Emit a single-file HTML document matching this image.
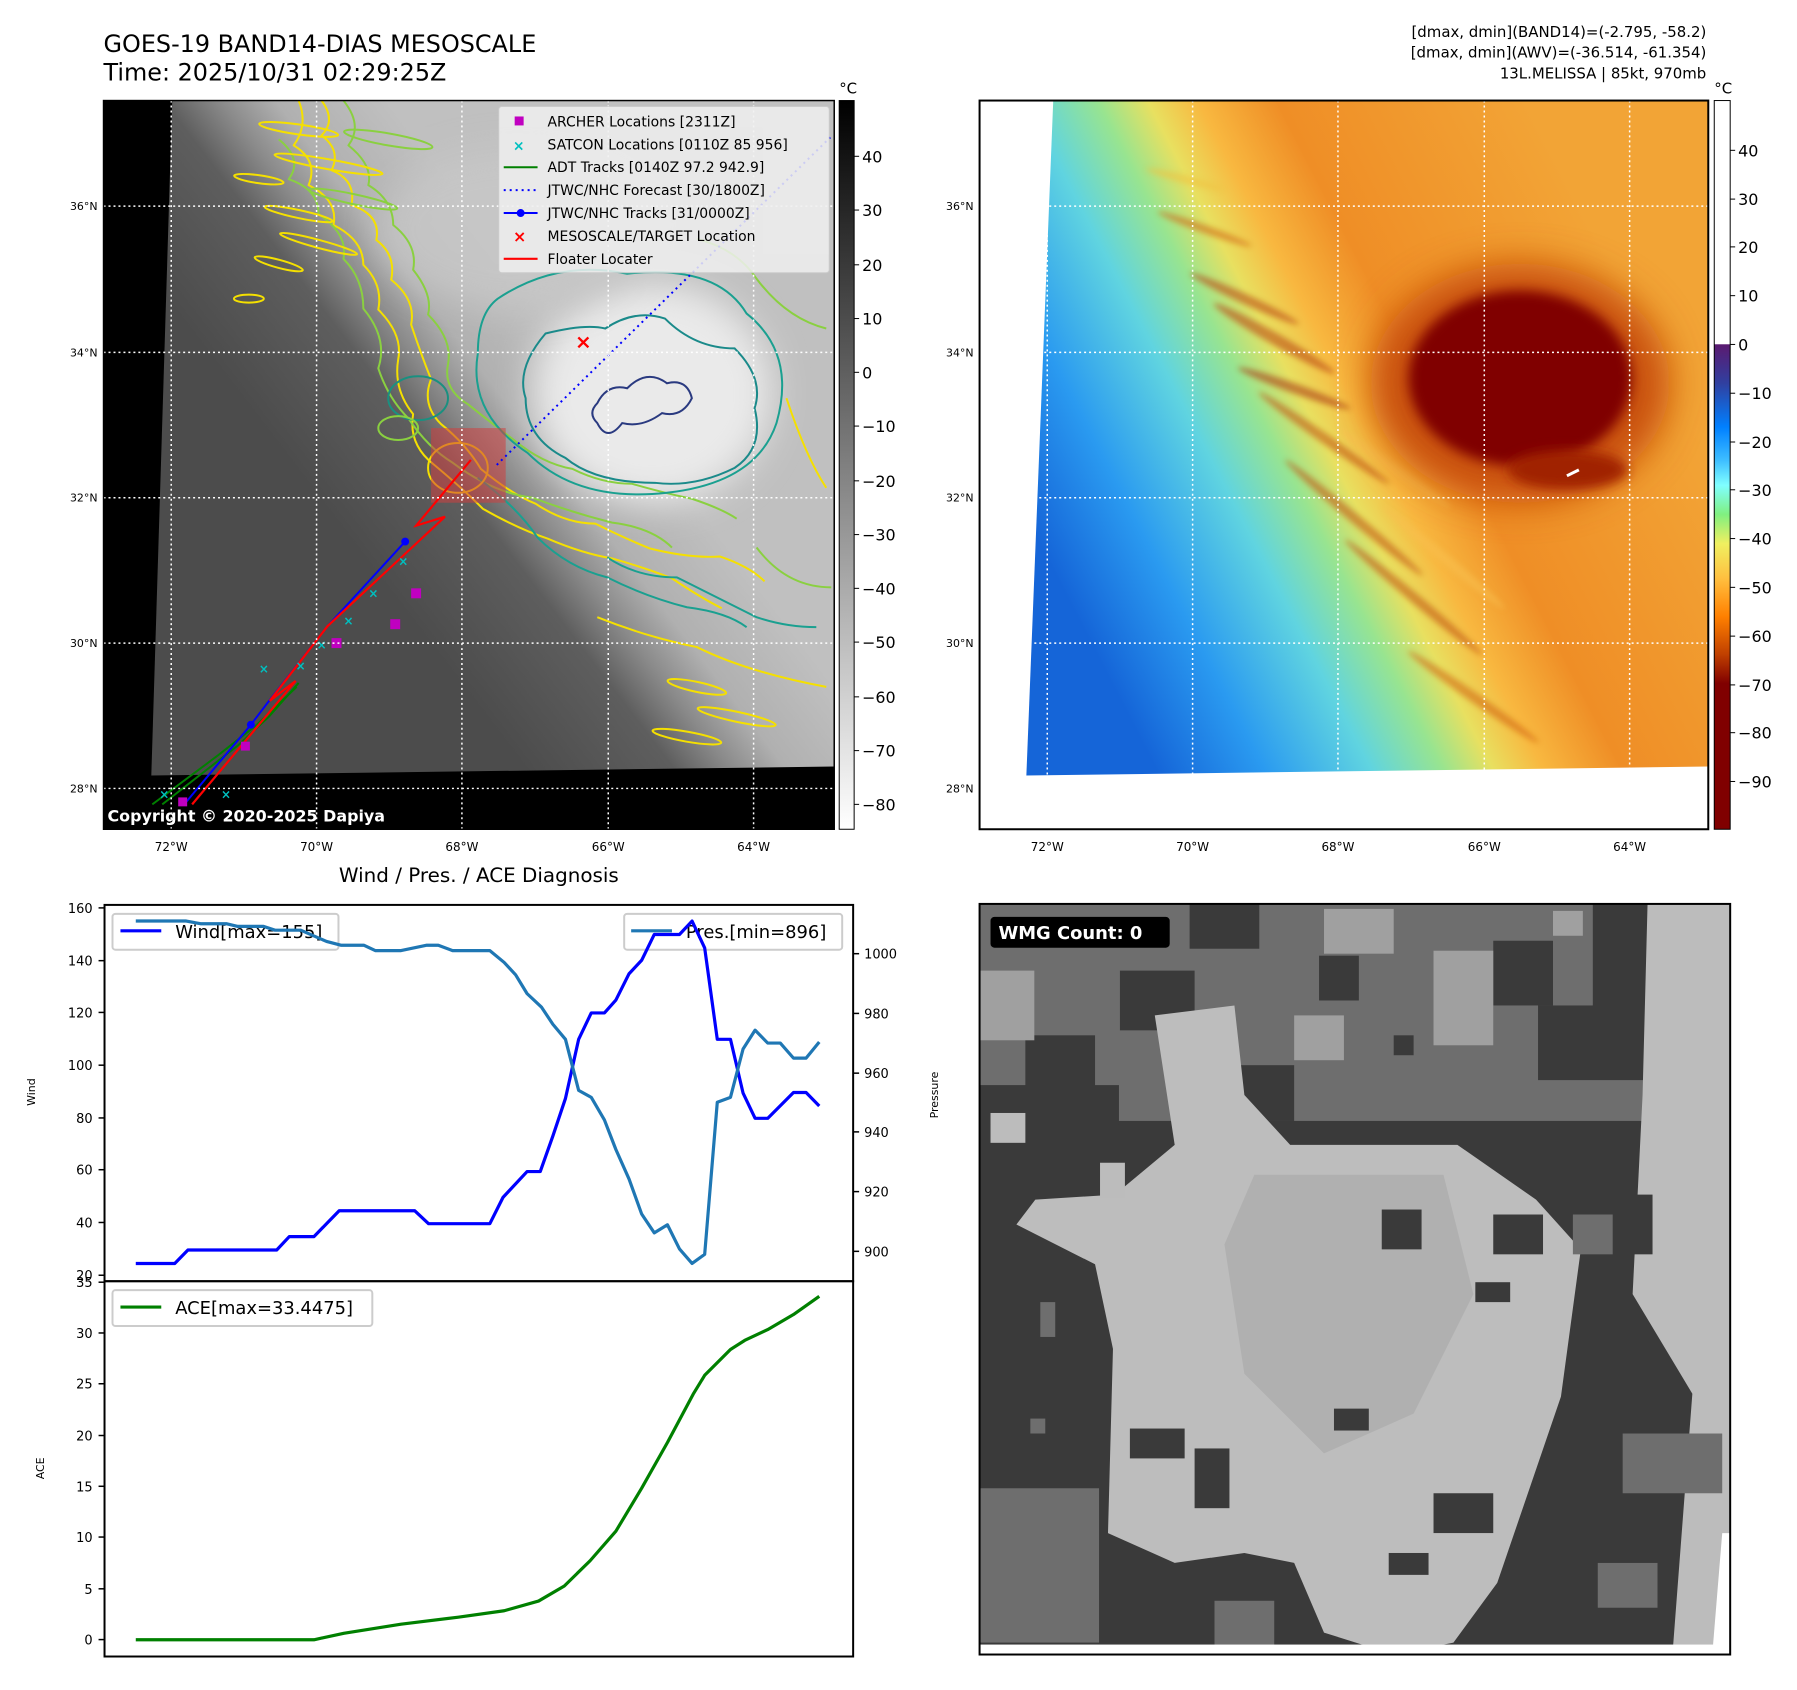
<!DOCTYPE html>
<html><head><meta charset="utf-8">
<style>
html,body{margin:0;padding:0;background:#fff;}
svg{display:block;font-family:"DejaVu Sans","Liberation Sans",sans-serif;}
</style></head>
<body>
<svg width="1797" height="1690" viewBox="0 0 1797 1690" xmlns="http://www.w3.org/2000/svg">
<defs>
  <clipPath id="c1"><rect x="104" y="101" width="734" height="732"/></clipPath>
  <clipPath id="c2"><rect x="984" y="101" width="732" height="732"/></clipPath>
  <clipPath id="c3"><rect x="984" y="908" width="754" height="754"/></clipPath>
  <clipPath id="c4"><rect x="105" y="909" width="752" height="755"/></clipPath>
  <linearGradient id="g1" gradientUnits="userSpaceOnUse" x1="311" y1="491" x2="549" y2="309">
    <stop offset="0" stop-color="#4c4c4c"/><stop offset="0.4" stop-color="#5e5e5e"/>
    <stop offset="0.55" stop-color="#8a8a8a"/><stop offset="0.7" stop-color="#b0b0b0"/>
    <stop offset="1" stop-color="#c0c0c0"/>
  </linearGradient>
  <linearGradient id="g2" gradientUnits="userSpaceOnUse" x1="1063" y1="583" x2="1632" y2="289">
    <stop offset="0" stop-color="#1565d8"/><stop offset="0.15" stop-color="#2a9af0"/>
    <stop offset="0.3" stop-color="#60d4e0"/><stop offset="0.4" stop-color="#98e490"/>
    <stop offset="0.47" stop-color="#e8e060"/><stop offset="0.54" stop-color="#f8b840"/>
    <stop offset="0.65" stop-color="#ef8e26"/><stop offset="1" stop-color="#f2a436"/>
  </linearGradient>
  <linearGradient id="cbg" x1="0" y1="0" x2="0" y2="1">
    <stop offset="0" stop-color="#000"/><stop offset="1" stop-color="#fff"/>
  </linearGradient>
  <linearGradient id="cbc" x1="0" y1="0" x2="0" y2="1">
    <stop offset="0" stop-color="#fff"/><stop offset="0.334" stop-color="#fff"/>
    <stop offset="0.335" stop-color="#5a1a70"/><stop offset="0.388" stop-color="#3040a0"/>
    <stop offset="0.448" stop-color="#0080ff"/><stop offset="0.495" stop-color="#40c0ff"/>
    <stop offset="0.528" stop-color="#80ffff"/><stop offset="0.568" stop-color="#80f080"/>
    <stop offset="0.608" stop-color="#f0f060"/><stop offset="0.655" stop-color="#ffc040"/>
    <stop offset="0.708" stop-color="#ff8000"/><stop offset="0.76" stop-color="#c04000"/>
    <stop offset="0.8" stop-color="#800000"/><stop offset="1" stop-color="#800000"/>
  </linearGradient>
  <filter id="bl" x="-50%" y="-50%" width="200%" height="200%"><feGaussianBlur stdDeviation="18"/></filter>
  <filter id="bl2" x="-50%" y="-50%" width="200%" height="200%"><feGaussianBlur stdDeviation="6"/></filter>
  <filter id="bl3" x="-50%" y="-50%" width="200%" height="200%"><feGaussianBlur stdDeviation="3"/></filter>
</defs>
<g transform="scale(0.9955)">
<text x="104" y="52" font-size="24">GOES-19 BAND14-DIAS MESOSCALE</text>
<text x="104" y="81" font-size="24">Time: 2025/10/31 02:29:25Z</text>
<g font-size="15" text-anchor="end">
<text x="1714" y="37">[dmax, dmin](BAND14)=(-2.795, -58.2)</text>
<text x="1714" y="58">[dmax, dmin](AWV)=(-36.514, -61.354)</text>
<text x="1714" y="79">13L.MELISSA | 85kt, 970mb</text>
</g>

<!-- MAP 1 -->
<g clip-path="url(#c1)">
  <rect x="104" y="101" width="734" height="732" fill="#000"/>
  <polygon points="173,101 838,101 838,770 152,779" fill="url(#g1)"/>
  <ellipse cx="655" cy="395" rx="120" ry="110" fill="#eaeaea" filter="url(#bl)"/>
  <ellipse cx="520" cy="230" rx="140" ry="80" fill="#c8c8c8" filter="url(#bl)" opacity="0.8"/>
  <g fill="none" stroke-width="2" stroke-linejoin="round">
    <path stroke="#f5e000" d="M323,101 q15,20 0,35 q20,15 10,35 q25,10 20,35 q30,10 25,35 q20,15 15,40 q25,20 20,45 q10,30 20,55 q-10,25 10,45 q25,20 40,45 q30,25 55,35 q30,20 60,20 q30,15 55,25 q40,10 70,8 q30,10 45,25"/>
    <path stroke="#f5e000" d="M300,101 q10,25 -5,45 q25,15 15,40 q30,15 25,40 q30,15 30,40 q20,20 15,45 q25,25 20,50 q-5,30 15,55 q-5,30 20,50 q30,25 50,45 q35,20 65,30 q35,15 65,20 q35,10 60,20 q30,20 50,30"/>
    <path stroke="#8ad040" d="M345,101 q20,25 5,45 q25,20 20,40 q25,15 25,40 q25,20 20,45 q20,25 15,45 q25,25 20,50 q-5,25 20,40 q25,20 45,35 q30,25 60,30 q30,15 60,15 q35,10 60,15 q30,10 45,20"/>
    <path stroke="#8ad040" d="M280,140 q25,20 10,40 q30,10 30,35 q30,20 25,45 q20,20 20,50 q25,30 15,60 q10,30 30,50 q20,30 45,45 q40,30 80,35 q40,15 80,25 q40,5 60,25"/>
    <path stroke="#1aa090" d="M480,480 q40,30 60,60 q30,30 70,40 q40,20 80,30 q40,5 60,20"/>
    <path stroke="#1aa090" d="M610,560 q30,20 70,20 q40,20 80,40 q30,10 60,10"/>
    <path stroke="#f5e000" d="M600,620 q50,20 100,30 q50,25 130,40"/>
    <path stroke="#8ad040" d="M700,240 q40,10 60,40 q30,40 70,50"/>
    <path stroke="#8ad040" d="M760,550 q30,40 75,40"/>
    <path stroke="#f5e000" d="M790,400 q20,60 40,90"/>
  </g>
  <g fill="none" stroke-width="2">
    <ellipse cx="300" cy="130" rx="40" ry="5" stroke="#f5e000" transform="rotate(8 300 130)"/>
    <ellipse cx="330" cy="165" rx="55" ry="5" stroke="#f5e000" transform="rotate(10 330 165)"/>
    <ellipse cx="355" cy="200" rx="45" ry="5" stroke="#8ad040" transform="rotate(12 355 200)"/>
    <ellipse cx="300" cy="215" rx="35" ry="4" stroke="#f5e000" transform="rotate(12 300 215)"/>
    <ellipse cx="320" cy="245" rx="40" ry="4" stroke="#f5e000" transform="rotate(15 320 245)"/>
    <ellipse cx="280" cy="265" rx="25" ry="4" stroke="#f5e000" transform="rotate(15 280 265)"/>
    <ellipse cx="390" cy="140" rx="45" ry="6" stroke="#8ad040" transform="rotate(10 390 140)"/>
    <ellipse cx="260" cy="180" rx="25" ry="4" stroke="#f5e000" transform="rotate(8 260 180)"/>
    <ellipse cx="250" cy="300" rx="15" ry="4" stroke="#f5e000"/>
    <ellipse cx="700" cy="690" rx="30" ry="5" stroke="#f5e000" transform="rotate(12 700 690)"/>
    <ellipse cx="740" cy="720" rx="40" ry="5" stroke="#f5e000" transform="rotate(12 740 720)"/>
    <ellipse cx="690" cy="740" rx="35" ry="5" stroke="#f5e000" transform="rotate(10 690 740)"/>
    <ellipse cx="460" cy="470" rx="30" ry="25" stroke="#f5e000"/>
    <ellipse cx="420" cy="400" rx="30" ry="22" stroke="#1a9080"/>
    <ellipse cx="400" cy="430" rx="20" ry="12" stroke="#8ad040"/>
  </g>
  <path d="M548,335 q40,-10 60,-5 q30,-20 60,-10 q30,30 70,30 q30,30 20,60 q10,40 -20,60 q-40,20 -80,15 q-60,0 -90,-25 q-40,-20 -40,-60 q-10,-30 20,-65 z" fill="none" stroke="#1a8a8a" stroke-width="2"/>
  <path d="M500,300 q60,-40 130,-25 q90,-10 120,40 q50,40 30,110 q-20,60 -110,70 q-90,10 -140,-40 q-60,-40 -50,-100 q0,-40 20,-55 z" fill="none" stroke="#1aa090" stroke-width="2"/>
  <path d="M600,405 q10,-20 30,-15 q20,-20 40,-5 q20,-5 25,15 q-10,20 -30,15 q-20,15 -40,10 q-15,20 -25,0 q-10,-10 0,-20 z" fill="none" stroke="#2a3a80" stroke-width="2"/>
  <rect x="433" y="430" width="75" height="75" fill="#d04040" opacity="0.55"/>
  <polyline points="153,808 220,758 258,728 298,690" fill="none" stroke="#008000" stroke-width="2"/>
  <polyline points="163,808 240,748 270,720 300,686" fill="none" stroke="#008000" stroke-width="2"/>
  <polyline points="499,467 834,138" fill="none" stroke="#0000ff" stroke-width="2" stroke-dasharray="2,4"/>
  <polyline points="185,808 252,728 268,707 329,629 407,544" fill="none" stroke="#0000ff" stroke-width="2"/>
  <g fill="#0000ff"><circle cx="252" cy="728" r="4"/><circle cx="407" cy="544" r="4"/></g>
  <polyline points="193,808 297,684 271,704 329,629 447,519 418,528 473,462" fill="none" stroke="#ff0000" stroke-width="2.2"/>
  <g fill="#00c0c0" font-size="12" font-weight="bold">
    <text x="160" y="802">×</text><text x="222" y="802">×</text><text x="260" y="676">×</text>
    <text x="297" y="673">×</text><text x="318" y="652">×</text><text x="345" y="628">×</text>
    <text x="370" y="600">×</text><text x="400" y="568">×</text>
  </g>
  <g fill="#c000c0">
    <rect x="413" y="591" width="10" height="10"/><rect x="392" y="622" width="10" height="10"/>
    <rect x="333" y="641" width="10" height="10"/><rect x="242" y="745" width="9" height="9"/>
    <rect x="179" y="801" width="9" height="9"/>
  </g>
  <text x="586" y="350" fill="#ff0000" font-size="20" font-weight="bold" text-anchor="middle">×</text>
  <g stroke="#fff" stroke-width="1.5" stroke-dasharray="2,3">
    <line x1="104" y1="207" x2="838" y2="207"/><line x1="104" y1="354" x2="838" y2="354"/>
    <line x1="104" y1="500" x2="838" y2="500"/><line x1="104" y1="646" x2="838" y2="646"/>
    <line x1="104" y1="792" x2="838" y2="792"/>
    <line x1="172" y1="101" x2="172" y2="833"/><line x1="318" y1="101" x2="318" y2="833"/>
    <line x1="464" y1="101" x2="464" y2="833"/><line x1="611" y1="101" x2="611" y2="833"/>
    <line x1="757" y1="101" x2="757" y2="833"/>
  </g>
  <rect x="501" y="107" width="332" height="167" rx="3" fill="#f0f0f0" opacity="0.85" stroke="#ccc"/>
  <g font-size="14" fill="#000">
    <rect x="517" y="117" width="9" height="9" fill="#c000c0"/>
    <text x="550" y="127">ARCHER Locations [2311Z]</text>
    <text x="521" y="151" fill="#00c0c0" font-weight="bold" text-anchor="middle">×</text>
    <text x="550" y="150">SATCON Locations [0110Z 85 956]</text>
    <line x1="506" y1="168" x2="540" y2="168" stroke="#008000" stroke-width="2"/>
    <text x="550" y="173">ADT Tracks [0140Z 97.2 942.9]</text>
    <line x1="506" y1="191" x2="540" y2="191" stroke="#0000ff" stroke-width="2" stroke-dasharray="2,4"/>
    <text x="550" y="196">JTWC/NHC Forecast [30/1800Z]</text>
    <line x1="506" y1="214" x2="540" y2="214" stroke="#0000ff" stroke-width="2"/>
    <circle cx="523" cy="214" r="4" fill="#0000ff"/>
    <text x="550" y="219">JTWC/NHC Tracks [31/0000Z]</text>
    <text x="522" y="243" fill="#ff0000" font-weight="bold" text-anchor="middle" font-size="16">×</text>
    <text x="550" y="242">MESOSCALE/TARGET Location</text>
    <line x1="506" y1="260" x2="540" y2="260" stroke="#ff0000" stroke-width="2.2"/>
    <text x="550" y="265">Floater Locater</text>
  </g>
  <text x="108" y="825" fill="#fff" font-size="16" font-weight="bold">Copyright © 2020-2025 Dapiya</text>
</g>
<rect x="104" y="101" width="734" height="732" fill="none" stroke="#000" stroke-width="1.5"/>
<g font-size="11" text-anchor="end">
  <text x="98" y="211">36°N</text><text x="98" y="358">34°N</text><text x="98" y="504">32°N</text>
  <text x="98" y="650">30°N</text><text x="98" y="796">28°N</text>
</g>
<g font-size="12" text-anchor="middle">
  <text x="172" y="855">72°W</text><text x="318" y="855">70°W</text><text x="464" y="855">68°W</text>
  <text x="611" y="855">66°W</text><text x="757" y="855">64°W</text>
</g>
<rect x="843" y="101" width="15" height="732" fill="url(#cbg)" stroke="#000" stroke-width="1"/>
<text x="852" y="94" font-size="15" text-anchor="middle">°C</text>
<g stroke="#000">
  <line x1="858" y1="157" x2="863" y2="157"/><line x1="858" y1="211" x2="863" y2="211"/>
  <line x1="858" y1="266" x2="863" y2="266"/><line x1="858" y1="320" x2="863" y2="320"/>
  <line x1="858" y1="374" x2="863" y2="374"/><line x1="858" y1="428" x2="863" y2="428"/>
  <line x1="858" y1="483" x2="863" y2="483"/><line x1="858" y1="537" x2="863" y2="537"/>
  <line x1="858" y1="591" x2="863" y2="591"/><line x1="858" y1="645" x2="863" y2="645"/>
  <line x1="858" y1="700" x2="863" y2="700"/><line x1="858" y1="754" x2="863" y2="754"/>
  <line x1="858" y1="808" x2="863" y2="808"/>
</g>
<g font-size="16">
  <text x="866" y="163">40</text><text x="866" y="217">30</text><text x="866" y="272">20</text>
  <text x="866" y="326">10</text><text x="866" y="380">0</text><text x="866" y="434">−10</text>
  <text x="866" y="489">−20</text><text x="866" y="543">−30</text><text x="866" y="597">−40</text>
  <text x="866" y="651">−50</text><text x="866" y="706">−60</text><text x="866" y="760">−70</text>
  <text x="866" y="814">−80</text>
</g>

<!-- MAP 2 -->
<g clip-path="url(#c2)">
  <rect x="984" y="101" width="732" height="732" fill="#fff"/>
  <polygon points="1058,101 1716,101 1716,770 1031,779" fill="url(#g2)"/>
  <g opacity="0.55" filter="url(#bl3)">
    <ellipse cx="1250" cy="300" rx="60" ry="5" fill="#b84010" transform="rotate(25 1250 300)"/>
    <ellipse cx="1280" cy="340" rx="70" ry="6" fill="#b84010" transform="rotate(30 1280 340)"/>
    <ellipse cx="1300" cy="390" rx="60" ry="5" fill="#a83008" transform="rotate(20 1300 390)"/>
    <ellipse cx="1330" cy="440" rx="80" ry="5" fill="#c05010" transform="rotate(35 1330 440)"/>
    <ellipse cx="1360" cy="520" rx="90" ry="5" fill="#c05010" transform="rotate(40 1360 520)"/>
    <ellipse cx="1420" cy="600" rx="90" ry="5" fill="#c05010" transform="rotate(40 1420 600)"/>
    <ellipse cx="1210" cy="230" rx="50" ry="4" fill="#d06010" transform="rotate(20 1210 230)"/>
    <ellipse cx="1190" cy="180" rx="40" ry="4" fill="#f0c040" transform="rotate(15 1190 180)"/>
    <ellipse cx="1480" cy="700" rx="80" ry="5" fill="#d06010" transform="rotate(35 1480 700)"/>
    <ellipse cx="1400" cy="470" rx="70" ry="5" fill="#f8c050" transform="rotate(35 1400 470)"/>
    <ellipse cx="1450" cy="560" rx="80" ry="5" fill="#f8c050" transform="rotate(40 1450 560)"/>
  </g>
  <ellipse cx="1527" cy="385" rx="150" ry="120" fill="#c85010" filter="url(#bl)"/>
  <ellipse cx="1527" cy="380" rx="112" ry="88" fill="#800000" filter="url(#bl2)"/>
  <ellipse cx="1575" cy="472" rx="60" ry="20" fill="#a02000" filter="url(#bl2)"/>
  <path d="M1574,478 l12,-6" stroke="#fff" stroke-width="3"/>
  <g stroke="#fff" stroke-width="1.5" stroke-dasharray="2,3">
    <line x1="984" y1="207" x2="1716" y2="207"/><line x1="984" y1="354" x2="1716" y2="354"/>
    <line x1="984" y1="500" x2="1716" y2="500"/><line x1="984" y1="646" x2="1716" y2="646"/>
    <line x1="984" y1="792" x2="1716" y2="792"/>
    <line x1="1052" y1="101" x2="1052" y2="833"/><line x1="1198" y1="101" x2="1198" y2="833"/>
    <line x1="1344" y1="101" x2="1344" y2="833"/><line x1="1491" y1="101" x2="1491" y2="833"/>
    <line x1="1637" y1="101" x2="1637" y2="833"/>
  </g>
</g>
<rect x="984" y="101" width="732" height="732" fill="none" stroke="#000" stroke-width="2"/>
<g font-size="11" text-anchor="end">
  <text x="978" y="211">36°N</text><text x="978" y="358">34°N</text><text x="978" y="504">32°N</text>
  <text x="978" y="650">30°N</text><text x="978" y="796">28°N</text>
</g>
<g font-size="12" text-anchor="middle">
  <text x="1052" y="855">72°W</text><text x="1198" y="855">70°W</text><text x="1344" y="855">68°W</text>
  <text x="1491" y="855">66°W</text><text x="1637" y="855">64°W</text>
</g>
<rect x="1722" y="101" width="16" height="732" fill="url(#cbc)" stroke="#000" stroke-width="1"/>
<text x="1731" y="94" font-size="15" text-anchor="middle">°C</text>
<g stroke="#000">
  <line x1="1738" y1="151" x2="1743" y2="151"/><line x1="1738" y1="200" x2="1743" y2="200"/>
  <line x1="1738" y1="248" x2="1743" y2="248"/><line x1="1738" y1="297" x2="1743" y2="297"/>
  <line x1="1738" y1="346" x2="1743" y2="346"/><line x1="1738" y1="395" x2="1743" y2="395"/>
  <line x1="1738" y1="444" x2="1743" y2="444"/><line x1="1738" y1="492" x2="1743" y2="492"/>
  <line x1="1738" y1="541" x2="1743" y2="541"/><line x1="1738" y1="590" x2="1743" y2="590"/>
  <line x1="1738" y1="639" x2="1743" y2="639"/><line x1="1738" y1="688" x2="1743" y2="688"/>
  <line x1="1738" y1="736" x2="1743" y2="736"/><line x1="1738" y1="785" x2="1743" y2="785"/>
</g>
<g font-size="16">
  <text x="1746" y="157">40</text><text x="1746" y="206">30</text><text x="1746" y="254">20</text>
  <text x="1746" y="303">10</text><text x="1746" y="352">0</text><text x="1746" y="401">−10</text>
  <text x="1746" y="450">−20</text><text x="1746" y="498">−30</text><text x="1746" y="547">−40</text>
  <text x="1746" y="596">−50</text><text x="1746" y="645">−60</text><text x="1746" y="694">−70</text>
  <text x="1746" y="742">−80</text><text x="1746" y="791">−90</text>
</g>

<!-- CHARTS -->
<text x="481" y="886" font-size="20" text-anchor="middle">Wind / Pres. / ACE Diagnosis</text>
<rect x="113" y="918" width="227" height="36" rx="3" fill="#fff" fill-opacity="0.8" stroke="#ccc" stroke-width="2"/>
<line x1="121" y1="935" x2="162" y2="935" stroke="#0000ff" stroke-width="3.2"/>
<text x="176" y="942" font-size="18">Wind[max=155]</text>
<rect x="627" y="918" width="219" height="36" rx="3" fill="#fff" fill-opacity="0.8" stroke="#ccc" stroke-width="2"/>
<line x1="634" y1="935" x2="675" y2="935" stroke="#1f77b4" stroke-width="3.2"/>
<text x="689" y="942" font-size="18">Pres.[min=896]</text>
<rect x="113" y="1296" width="261" height="36" rx="3" fill="#fff" fill-opacity="0.8" stroke="#ccc" stroke-width="2"/>
<line x1="121" y1="1313" x2="162" y2="1313" stroke="#008000" stroke-width="3.2"/>
<text x="176" y="1320" font-size="18">ACE[max=33.4475]</text>
<g clip-path="url(#c4)">
<g transform="translate(0,855) scale(0.5755,0.54)" fill="none" stroke-linejoin="round">
  <polyline vector-effect="non-scaling-stroke" stroke="#0000ff" stroke-width="3.2" points="237,767 305,767 328,742 483,742 505,717 548,717 592,669 724,669 748,693 855,693 878,644 920,596 943,596 965,530 987,460 1010,350 1032,301 1055,301 1075,277 1098,228 1120,203 1142,155 1186,155 1208,130 1230,180 1252,350 1275,350 1297,450 1318,497 1340,497 1385,449 1407,449 1430,474"/>
  <polyline vector-effect="non-scaling-stroke" stroke="#1f77b4" stroke-width="3.2" points="237,130 325,130 350,135 395,135 415,140 460,140 480,147 525,147 570,168 595,175 635,175 655,185 700,185 745,175 765,175 790,185 855,185 880,207 900,230 920,265 945,290 965,322 987,350 1010,445 1032,458 1055,500 1075,555 1098,610 1120,675 1142,710 1165,695 1186,740 1208,767 1230,750 1252,467 1275,458 1297,368 1318,333 1340,357 1362,357 1385,385 1407,385 1430,355"/>
  <polyline vector-effect="non-scaling-stroke" stroke="#008000" stroke-width="3.2" points="237,1467 548,1467 600,1455 700,1438 800,1425 880,1413 940,1395 985,1367 1030,1320 1075,1265 1120,1185 1165,1100 1210,1010 1230,975 1275,927 1300,910 1340,890 1385,862 1430,828"/>
</g>
</g>
<rect x="105" y="909" width="752" height="378" fill="none" stroke="#000" stroke-width="2"/>
<rect x="105" y="1287" width="752" height="377" fill="none" stroke="#000" stroke-width="2"/>
<g stroke="#000" stroke-width="1.5">
  <line x1="99" y1="912" x2="105" y2="912"/><line x1="99" y1="965" x2="105" y2="965"/>
  <line x1="99" y1="1017" x2="105" y2="1017"/><line x1="99" y1="1070" x2="105" y2="1070"/>
  <line x1="99" y1="1123" x2="105" y2="1123"/><line x1="99" y1="1175" x2="105" y2="1175"/>
  <line x1="99" y1="1228" x2="105" y2="1228"/><line x1="99" y1="1281" x2="105" y2="1281"/>
  <line x1="857" y1="958" x2="863" y2="958"/><line x1="857" y1="1018" x2="863" y2="1018"/>
  <line x1="857" y1="1078" x2="863" y2="1078"/><line x1="857" y1="1137" x2="863" y2="1137"/>
  <line x1="857" y1="1197" x2="863" y2="1197"/><line x1="857" y1="1257" x2="863" y2="1257"/>
  <line x1="99" y1="1647" x2="105" y2="1647"/><line x1="99" y1="1596" x2="105" y2="1596"/>
  <line x1="99" y1="1544" x2="105" y2="1544"/><line x1="99" y1="1493" x2="105" y2="1493"/>
  <line x1="99" y1="1442" x2="105" y2="1442"/><line x1="99" y1="1390" x2="105" y2="1390"/>
  <line x1="99" y1="1339" x2="105" y2="1339"/><line x1="99" y1="1288" x2="105" y2="1288"/>
</g>
<g font-size="13" text-anchor="end">
  <text x="93" y="917">160</text><text x="93" y="970">140</text><text x="93" y="1022">120</text>
  <text x="93" y="1075">100</text><text x="93" y="1128">80</text><text x="93" y="1180">60</text>
  <text x="93" y="1233">40</text><text x="93" y="1286">20</text>
  <text x="93" y="1652">0</text><text x="93" y="1601">5</text><text x="93" y="1549">10</text>
  <text x="93" y="1498">15</text><text x="93" y="1447">20</text><text x="93" y="1395">25</text>
  <text x="93" y="1344">30</text><text x="93" y="1293">35</text>
</g>
<g font-size="13">
  <text x="868" y="963">1000</text><text x="868" y="1023">980</text><text x="868" y="1083">960</text>
  <text x="868" y="1142">940</text><text x="868" y="1202">920</text><text x="868" y="1262">900</text>
</g>
<text transform="translate(35,1097) rotate(-90)" font-size="11" text-anchor="middle">Wind</text>
<text transform="translate(942,1100) rotate(-90)" font-size="11" text-anchor="middle">Pressure</text>
<text transform="translate(44,1475) rotate(-90)" font-size="11" text-anchor="middle">ACE</text>

<!-- WMG panel -->
<g clip-path="url(#c3)">
  <rect x="984" y="908" width="754" height="754" fill="#3a3a3a"/>
  <rect x="984" y="908" width="700" height="218" fill="#6e6e6e"/>
  <g fill="#3a3a3a">
    <rect x="1125" y="975" width="75" height="60"/><rect x="1195" y="908" width="70" height="45"/>
    <rect x="1325" y="960" width="40" height="45"/><rect x="1500" y="945" width="60" height="65"/>
    <rect x="1545" y="1010" width="120" height="75"/><rect x="984" y="1090" width="140" height="40"/>
    <rect x="1030" y="1040" width="70" height="55"/><rect x="1400" y="1040" width="20" height="20"/>
    <rect x="1240" y="1070" width="60" height="56"/><rect x="1600" y="908" width="60" height="110"/>
  </g>
  <g fill="#a0a0a0">
    <rect x="984" y="975" width="55" height="70"/><rect x="1330" y="913" width="70" height="45"/>
    <rect x="1440" y="955" width="60" height="95"/><rect x="1300" y="1020" width="50" height="45"/>
    <rect x="1560" y="915" width="30" height="25"/>
  </g>
  <polygon fill="#bdbdbd" points="1021,1230 1040,1205 1120,1200 1180,1150 1160,1020 1240,1010 1250,1100 1296,1150 1464,1150 1543,1205 1588,1255 1568,1403 1504,1590 1460,1650 1400,1662 1330,1640 1300,1570 1250,1560 1180,1570 1113,1540 1118,1355 1100,1270"/>
  <polygon fill="#b0b0b0" points="1260,1180 1450,1180 1480,1300 1420,1420 1330,1460 1250,1380 1230,1250"/>
  <polygon fill="#bcbcbc" points="1655,908 1738,908 1738,1560 1725,1662 1680,1662 1700,1400 1640,1300 1650,1100"/>
  <g fill="#3a3a3a">
    <rect x="1388" y="1215" width="40" height="40"/><rect x="1482" y="1288" width="35" height="20"/>
    <rect x="1340" y="1415" width="35" height="22"/><rect x="1135" y="1435" width="55" height="30"/>
    <rect x="1200" y="1455" width="35" height="60"/><rect x="1395" y="1560" width="40" height="22"/>
    <rect x="1440" y="1500" width="60" height="40"/><rect x="1500" y="1220" width="50" height="40"/>
    <rect x="1620" y="1200" width="40" height="60"/>
  </g>
  <rect x="995" y="1118" width="35" height="30" fill="#bcbcbc"/>
  <rect x="1105" y="1168" width="25" height="35" fill="#bcbcbc"/>
  <g fill="#6e6e6e">
    <rect x="984" y="1495" width="120" height="155"/><rect x="1220" y="1608" width="60" height="50"/>
    <rect x="1605" y="1570" width="60" height="45"/><rect x="1630" y="1440" width="100" height="60"/>
    <rect x="1580" y="1220" width="40" height="40"/><rect x="1045" y="1308" width="15" height="35"/>
    <rect x="1035" y="1425" width="15" height="15"/>
  </g>
  <rect x="984" y="1652" width="754" height="12" fill="#fff"/>
  <polygon points="1730,1540 1738,1540 1738,1662 1720,1662" fill="#fff"/>
</g>
<rect x="984" y="908" width="754" height="754" fill="none" stroke="#000" stroke-width="2"/>
<rect x="995" y="921" width="180" height="31" rx="4" fill="#000"/>
<text x="1003" y="943" font-size="18" font-weight="bold" fill="#fff">WMG Count: 0</text>
</g>
</svg>
</body></html>
